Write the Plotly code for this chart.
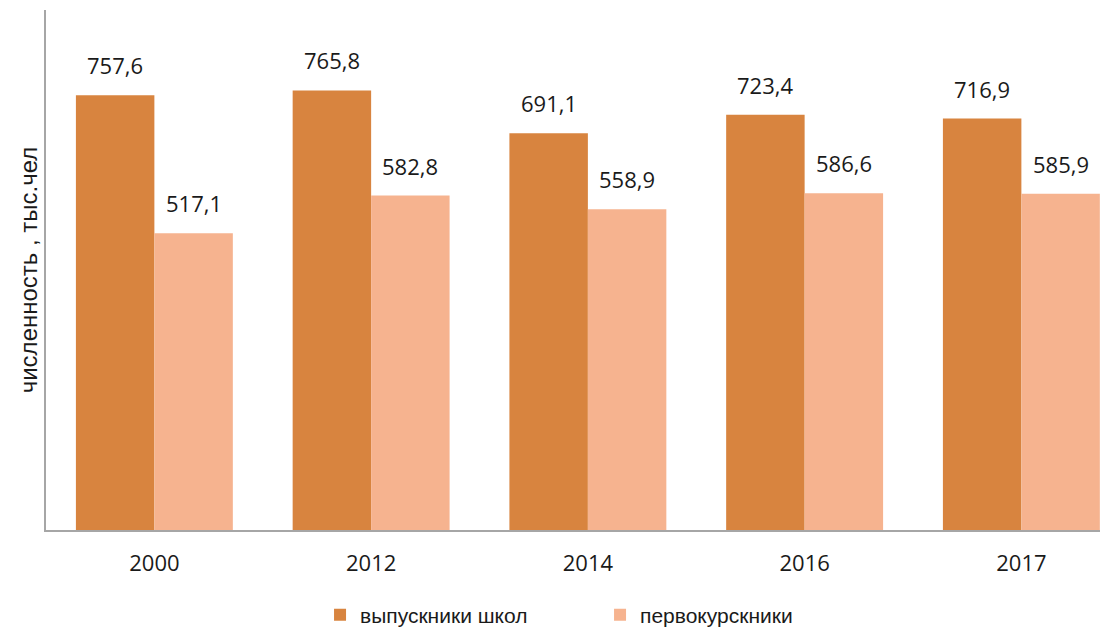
import plotly.graph_objects as go

years = ["2000", "2012", "2014", "2016", "2017"]
graduates = [757.6, 765.8, 691.1, 723.4, 716.9]
freshmen = [517.1, 582.8, 558.9, 586.6, 585.9]
series_names = ["выпускники школ", "первокурскники"]
colors = ["#D8843F", "#F6B38F"]

# page body has an 8px margin; figure is sized to fit the 1110x631 window
W, H = 1102, 623
ml, mr, mt, mb = 38, 10, 2, 101
plot_w = W - ml - mr
group_px = 216.75              # category spacing in the reference (plot is cropped at right)
x_max = -0.5 + plot_w / group_px
bargap = 0.276
bar_px = group_px * (1 - bargap) / 2

fig = go.Figure()
for name, vals, col in zip(series_names, [graduates, freshmen], colors):
    fig.add_trace(go.Bar(x=years, y=vals, name=name, showlegend=False,
                         marker=dict(color=col, line=dict(width=0))))
for name, col in zip(series_names, colors):
    fig.add_trace(go.Scatter(x=[None], y=[None], mode="markers", name=name,
                             marker=dict(symbol="square", size=15, color=col)))

def fmt(v):
    return f"{v:.1f}".replace(".", ",")

for i, vals in enumerate([graduates, freshmen]):
    shift = (-0.5 if i == 0 else 0.5) * bar_px
    for idx, v in enumerate(vals):
        fig.add_annotation(x=idx, y=v, text=fmt(v), showarrow=False, xref="x", yref="y",
                           xshift=shift, yshift=13, yanchor="bottom",
                           font=dict(family="Open Sans", size=22, color="#1a1a1a"))

fig.update_layout(
    width=W, height=H,
    margin=dict(l=ml, r=mr, t=mt, b=mb, autoexpand=False),
    paper_bgcolor="white", plot_bgcolor="white",
    barmode="group", bargap=bargap, bargroupgap=0,
    showlegend=True,
    legend=dict(orientation="h", x=0.26, xanchor="left", y=-0.124, yanchor="top",
                font=dict(family="Liberation Sans", size=21, color="#1a1a1a"),
                entrywidth=235, entrywidthmode="pixels", itemsizing="constant"),
    xaxis=dict(type="category", range=[-0.5, x_max],
               showline=True, linecolor="#a6a6a6", linewidth=1.5, ticks="",
               tickfont=dict(family="Open Sans", size=22, color="#1a1a1a"),
               ticklabelstandoff=13, showgrid=False, automargin=False),
    yaxis=dict(range=[0, 906], showline=True, linecolor="#a6a6a6", linewidth=1.5,
               showticklabels=False, ticks="", showgrid=False, zeroline=False, automargin=False,
               title=dict(text="численность , тыс.чел", standoff=0,
                          font=dict(family="Liberation Sans", size=24, color="#1a1a1a"))),
)

fig.write_html("out.html")
